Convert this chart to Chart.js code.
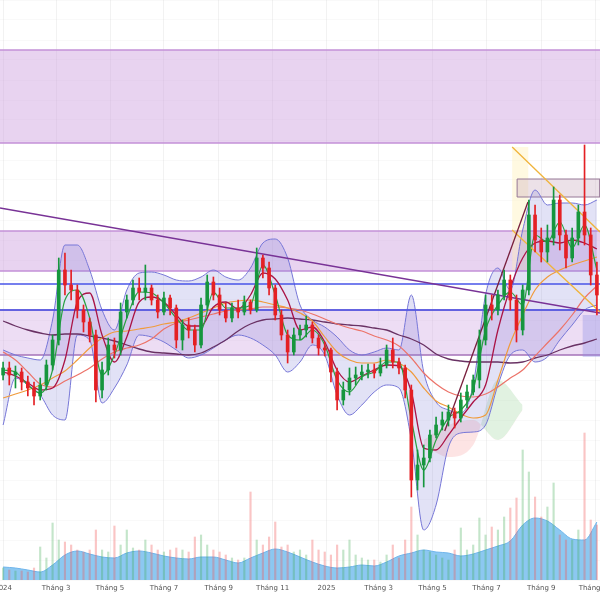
<!DOCTYPE html>
<html>
<head>
<meta charset="utf-8">
<script src="https://cdn.jsdelivr.net/npm/chart.js@4.4.1/dist/chart.umd.min.js"></script>
<style>
  html, body { margin: 0; padding: 0; background: #fff; }
  #wrap { width: 600px; height: 600px; }
</style>
</head>
<body>
<div id="wrap"><canvas id="chart"></canvas></div>
<script>
// ------------------ Data: one candle per week from 2024-01-01 (price, thousand VND) ------------------
const open = [
  22.5,23.2,22.5,22.8,21.8,21.2,20.4,21.5,23.5,26.0,
  33.0,31.5,31.0,29.0,27.8,26.5,21.0,23.0,25.5,25.0,
  28.8,30.0,31.2,30.8,31.2,30.0,28.8,30.2,29.2,26.0,
  27.5,27.0,25.5,29.5,31.8,30.5,29.0,28.2,29.2,28.8,
  29.8,29.0,34.2,33.2,31.2,28.5,26.5,24.8,26.5,27.0,
  27.5,26.2,25.2,25.0,22.8,20.0,21.0,22.2,22.5,22.8,
  23.0,22.7,23.5,25.0,23.8,23.2,21.0,12.0,13.5,14.2,
  16.5,17.5,18.0,18.8,18.2,20.0,20.8,22.0,26.0,29.5,
  29.0,30.5,32.0,30.0,27.0,31.0,38.5,36.0,34.8,36.2,
  40.0,36.5,34.2,36.2,38.8,36.5,32.5
];
const high = [
  23.8,23.8,23.4,23.2,22.4,21.8,22.2,24.0,26.5,34.2,
  34.7,33.0,31.5,29.5,28.2,27.0,23.8,26.2,26.2,29.7,
  30.5,32.0,32.2,33.5,31.5,30.5,30.8,30.5,29.5,28.0,
  28.2,27.5,30.2,32.5,32.3,31.2,29.7,29.7,30.0,30.4,
  30.0,35.2,34.5,33.8,31.5,29.0,27.0,27.2,27.5,28.4,
  27.8,26.5,25.8,25.2,23.2,21.8,23.2,23.3,23.5,23.6,
  23.6,24.2,25.5,26.2,24.2,23.5,21.5,15.0,15.5,17.0,
  18.3,18.8,19.5,19.2,20.7,21.5,22.5,27.0,30.5,30.5,
  31.0,33.0,32.5,30.5,31.5,40.0,39.5,37.2,37.5,41.3,
  40.5,37.0,37.2,39.5,45.5,37.2,33.8
];
const low = [
  22.0,21.5,21.2,21.0,20.4,19.5,20.0,21.0,23.0,25.5,
  30.5,30.0,28.2,26.8,25.8,19.8,20.2,22.5,24.2,24.5,
  28.2,29.5,30.0,30.0,29.5,28.2,28.5,28.5,25.2,25.0,
  26.2,24.8,25.2,29.0,30.0,28.5,27.8,27.8,28.2,28.5,
  28.6,28.8,32.2,30.5,28.0,26.0,23.7,24.5,26.0,26.3,
  25.7,24.5,24.4,21.8,19.0,19.5,20.5,21.5,22.0,22.2,
  22.2,22.4,23.2,23.2,22.6,20.2,10.3,11.0,11.3,13.8,
  16.2,17.0,17.4,17.2,17.8,19.2,20.5,21.2,25.5,28.0,
  28.5,30.0,29.0,25.8,26.5,30.5,34.8,33.8,33.8,35.5,
  35.0,33.2,33.8,35.5,35.5,31.5,28.5
];
const close = [
  23.2,22.5,22.8,21.8,21.2,20.4,21.5,23.5,26.0,33.0,
  31.5,31.0,29.0,27.8,26.5,21.0,23.0,25.5,25.0,28.8,
  30.0,31.2,30.8,31.2,30.0,28.8,30.2,29.2,26.0,27.5,
  27.0,25.5,29.5,31.8,30.5,29.0,28.2,29.2,28.8,29.8,
  29.0,34.2,33.2,31.2,28.5,26.5,24.8,26.5,27.0,27.5,
  26.2,25.2,25.0,22.8,20.0,21.0,22.2,22.5,22.8,23.0,
  22.7,23.5,25.0,23.8,23.2,21.0,12.0,13.5,14.2,16.5,
  17.5,18.0,18.8,18.2,20.0,20.8,22.0,26.0,29.5,29.0,
  30.5,32.0,30.0,27.0,31.0,38.5,36.0,34.8,36.2,40.0,
  36.5,34.2,36.2,38.8,36.5,32.5,30.5
];
// volume, million shares
const volume = [
  1.2,1.0,0.9,0.9,0.8,1.2,3.3,2.2,5.7,4.0,
  3.8,3.5,3.0,2.8,3.0,5.0,3.0,2.8,5.4,3.5,
  5.0,3.2,3.0,4.0,3.5,3.0,2.8,3.0,3.2,3.0,
  2.8,4.3,4.5,3.5,3.0,2.8,2.5,2.2,2.0,2.2,
  8.8,4.0,3.5,4.3,5.8,3.3,3.5,2.8,3.0,2.5,
  4.0,3.0,2.8,2.5,3.5,3.0,4.0,2.5,2.2,2.0,
  2.0,1.8,2.5,3.5,2.2,4.0,7.3,4.5,3.0,2.8,
  2.5,2.2,2.0,3.0,5.2,3.0,3.5,6.2,4.5,5.3,
  5.0,6.3,7.2,8.2,13.0,10.8,8.3,6.3,7.3,9.7,
  4.5,4.0,4.0,5.0,14.7,6.0,5.5
];

// indicators, read every second week
const ma10 = [23.0,22.8,21.5,20.7,23.0,30.0,31.0,28.2,22.5,24.5,28.2,30.8,30.7,29.7,28.2,27.0,27.0,30.8,29.2,29.2,29.5,33.5,30.5,26.5,26.0,27.0,25.5,22.0,20.8,22.3,22.8,23.8,23.8,18.0,13.0,16.0,18.2,19.0,21.0,27.0,29.5,30.8,29.5,36.5,35.8,37.8,35.2,37.5,33.0];
const ma20 = [22.8,22.4,21.7,21.0,21.2,24.0,29.8,30.7,26.5,23.8,26.3,29.8,30.3,29.8,28.5,27.4,27.4,29.3,29.8,29.1,30.5,32.7,32.1,30.0,27.0,27.3,25.8,23.0,21.8,22.4,23.0,23.5,23.4,20.8,15.2,15.0,16.5,18.2,19.8,21.5,27.0,31.2,34.2,35.7,35.9,35.7,36.0,35.7,35.1];
const ma50 = [20.2,20.6,21.0,21.5,22.2,22.9,24.0,25.2,26.2,26.8,26.9,27.1,27.3,27.6,27.8,28.2,28.7,29.2,29.7,29.9,30.0,29.8,29.5,29.2,28.7,27.9,26.3,24.8,24.0,23.7,23.7,24.0,23.7,22.8,21.2,19.9,19.3,18.6,18.2,18.5,22.0,25.7,28.5,31.0,32.3,33.0,33.5,33.9,34.3];
const ma100 = [24.8,24.0,22.8,21.6,21.3,21.9,22.5,23.2,24.1,24.8,25.2,25.5,26.1,27.1,27.7,28.0,28.3,28.6,28.9,29.0,29.1,29.3,29.3,29.2,29.0,28.6,28.1,27.6,27.2,26.9,26.4,26.0,25.4,24.2,22.7,21.6,20.8,20.4,20.3,20.6,21.3,22.2,23.0,24.4,25.7,27.0,28.5,30.2,31.4];
const ma200 = [27.9,27.4,27.0,26.7,26.5,26.6,26.6,26.4,26.2,25.9,25.5,25.1,24.8,24.7,24.6,24.5,24.7,25.3,26.0,26.9,27.6,28.0,28.1,28.2,28.1,28.0,27.8,27.6,27.5,27.4,27.2,27.0,26.5,26.1,25.5,24.6,24.1,23.9,23.8,23.8,23.8,23.7,23.8,24.2,24.5,25.0,25.4,25.7,26.1];
const bollUpper = [25.0,24.5,24.2,24.0,28.0,35.5,35.5,33.0,29.0,27.0,31.0,32.7,32.8,32.5,32.0,31.9,32.3,33.0,32.3,32.0,33.2,35.7,36.1,34.2,29.5,28.0,27.3,26.3,25.0,24.5,24.8,25.2,25.0,30.5,22.8,19.8,19.0,18.7,21.5,30.5,33.2,31.0,37.0,41.0,39.5,39.7,39.7,39.5,40.0];
const bollLower = [17.5,22.2,21.5,20.5,18.5,18.0,26.5,26.0,19.7,21.2,23.5,26.5,26.3,25.8,25.0,24.2,24.5,25.2,26.0,26.5,26.2,25.5,24.5,22.8,23.8,25.5,24.5,20.5,18.5,19.5,20.8,21.5,21.2,16.0,7.0,9.5,15.3,16.7,16.8,17.5,21.5,24.5,25.0,23.8,24.3,26.0,27.5,29.0,29.5];
const volMA = [1.3,1.2,1.0,0.8,1.5,2.5,2.9,2.6,2.3,2.2,2.7,2.9,2.7,2.4,2.2,2.1,2.3,2.3,2.0,1.7,2.2,2.7,3.1,2.8,2.3,1.8,1.4,1.2,1.3,1.5,1.4,1.8,2.4,2.7,3.0,2.8,2.7,2.4,2.6,3.0,3.4,3.9,5.5,6.2,5.9,5.0,4.1,4.0,5.8];

// visible part of the Ichimoku cloud, weeks 68..84 every 4 weeks
const cloudWeeks = [68, 72, 76, 80, 84];
const spanA = [15.5, 14.3, 15.5, 22.0, 19.5];
const spanB = [16.0, 17.5, 18.0, 16.0, 19.0];

// drawn zones and levels (price)
const zones = [[45.7, 55.0], [32.9, 36.9], [24.5, 29.0]];
const blueLevels = [31.6, 29.0];
// trend lines as [week, price] anchors
const trendLong = [[-0.5, 39.2], [96.5, 28.7]];
const trendUp = [[71.4, 16.9], [84.85, 39.8]];
const channelTop = [[82.3, 45.3], [96.5, 36.8]];
const channelBottom = [[82.3, 37.0], [96.5, 28.8]];
// boxes: [fromWeek, toWeek, lowPrice, highPrice]
const boxTop = [83.1, 96.5, 40.3, 42.1];
const boxFib = [82.3, 84.9, 33.0, 45.3];
const boxRight = [93.7, 96.5, 24.3, 28.5];

const tickDates = ["2024-01-01","2024-03-01","2024-05-01","2024-07-01","2024-09-01","2024-11-01",
                   "2025-01-01","2025-03-01","2025-05-01","2025-07-01","2025-09-01","2025-11-01"];
const tickLabels = ["2024","Tháng 3","Tháng 5","Tháng 7","Tháng 9","Tháng 11",
                    "2025","Tháng 3","Tháng 5","Tháng 7","Tháng 9","Tháng 11"];

// ------------------ Helpers ------------------
const start = Date.parse("2024-01-01");
const toWeek = d => (Date.parse(d) - start) / (7 * 864e5);
const lastX = close.length - 0.5;

const GREEN = 'rgb(22,150,62)';
const RED = 'rgb(228,32,36)';
const up = close.map((c, i) => c >= open[i]);

function every2(values) {
  return values.map((v, k) => ({ x: k * 2, y: v }));
}
function line(values, color, width, order, extra) {
  return Object.assign({
    type: 'line', data: every2(values), borderColor: color, borderWidth: width,
    pointRadius: 0, cubicInterpolationMode: 'monotone', fill: false, order: order
  }, extra);
}
function segment(pts, color, width, order) {
  return {
    type: 'line', data: pts.map(p => ({ x: p[0], y: p[1] })), borderColor: color,
    borderWidth: width, pointRadius: 0, fill: false, order: order
  };
}
function box(b, fillColor, borderColor, width, order) {
  return {
    type: 'line',
    data: [{ x: b[0], y: b[3] }, { x: b[1], y: b[3] }, { x: b[1], y: b[2] }, { x: b[0], y: b[2] }, { x: b[0], y: b[3] }],
    borderColor: borderColor, borderWidth: width, backgroundColor: fillColor,
    pointRadius: 0, fill: 'shape', order: order
  };
}

// ------------------ Datasets ------------------
const datasets = [];

zones.forEach((z, k) => {
  datasets.push(box([-1, lastX + 1, z[0], z[1]],
    k === 2 ? 'rgba(200,150,220,0.32)' : 'rgba(200,150,220,0.42)',
    k === 2 ? 'rgb(165,115,185)' : 'rgb(195,145,215)', 1.5, 100 + k));
});
blueLevels.forEach(v => datasets.push(segment([[-1, v], [lastX + 1, v]], 'rgb(72,84,232)', 1.6, 60)));

datasets.push(box(boxFib, 'rgba(255,238,170,0.35)', 'rgba(0,0,0,0)', 0, 98));
datasets.push(box(boxTop, 'rgba(200,170,190,0.35)', 'rgb(150,120,150)', 1, 97));
datasets.push(box(boxRight, 'rgba(140,140,230,0.35)', 'rgba(0,0,0,0)', 0, 96));

// Ichimoku cloud patch
datasets.push({
  type: 'line', data: cloudWeeks.map((w, k) => ({ x: w, y: spanA[k] })), borderWidth: 0, pointRadius: 0,
  cubicInterpolationMode: 'monotone', order: 95,
  fill: { target: '+1', above: 'rgba(120,195,120,0.22)', below: 'rgba(245,130,130,0.22)' }
});
datasets.push({
  type: 'line', data: cloudWeeks.map((w, k) => ({ x: w, y: spanB[k] })), borderWidth: 0, pointRadius: 0,
  cubicInterpolationMode: 'monotone', order: 95
});

// volume
datasets.push({
  type: 'line', yAxisID: 'yv', data: every2(volMA), borderColor: 'rgb(110,180,235)', borderWidth: 1,
  backgroundColor: 'rgba(120,190,238,0.85)', fill: 'origin', pointRadius: 0,
  cubicInterpolationMode: 'monotone', order: 91
});
datasets.push({
  type: 'bar', yAxisID: 'yv', data: volume.map((v, i) => ({ x: i, y: v })),
  backgroundColor: up.map(u => u ? 'rgba(60,170,80,0.3)' : 'rgba(240,90,90,0.35)'),
  barThickness: 1.5, grouped: false, order: 90
});

// Bollinger
datasets.push(line(bollUpper, 'rgb(118,118,215)', 1, 80, { fill: '+1', backgroundColor: 'rgba(125,125,215,0.22)' }));
datasets.push(line(bollLower, 'rgb(118,118,215)', 1, 80));

// moving averages
datasets.push(line(ma200, 'rgb(105,50,100)', 1.3, 59));
datasets.push(line(ma100, 'rgb(236,115,105)', 1.2, 58));
datasets.push(line(ma50, 'rgb(240,155,60)', 1.2, 57));
datasets.push(line(ma20, 'rgb(170,20,70)', 1.3, 56));
datasets.push(line(ma10, 'rgb(40,160,65)', 1.2, 55));

// trend lines
datasets.push(segment(trendLong, 'rgb(120,50,150)', 1.5, 50));
datasets.push(segment(trendUp, 'rgb(120,30,60)', 1.3, 50));
datasets.push(segment(channelTop, 'rgb(240,180,60)', 1.3, 50));
datasets.push(segment(channelBottom, 'rgb(240,180,60)', 1.3, 50));

// candles
datasets.push({
  type: 'bar', data: close.map((c, i) => ({ x: i, y: [low[i], high[i]] })),
  backgroundColor: up.map(u => u ? GREEN : RED), barThickness: 1, grouped: false, order: 2
});
datasets.push({
  type: 'bar', data: close.map((c, i) => ({ x: i, y: [open[i], c] })),
  backgroundColor: up.map(u => u ? GREEN : RED), barThickness: 3, minBarLength: 1, grouped: false, order: 1
});

// ------------------ Chart ------------------
new Chart(document.getElementById('chart').getContext('2d'), {
  type: 'line',
  data: { datasets: datasets },
  options: {
    responsive: true,
    maintainAspectRatio: false,
    animation: false,
    layout: { padding: 0, autoPadding: false },
    plugins: { legend: { display: false }, tooltip: { enabled: false } },
    scales: {
      x: {
        type: 'linear', min: -0.5, max: lastX, offset: false,
        afterBuildTicks: s => { s.ticks = tickDates.map(d => ({ value: toWeek(d) })); },
        afterFit: s => { s.height = 20; s.paddingLeft = 0; s.paddingRight = 0; },
        ticks: {
          autoSkip: false, maxRotation: 0, padding: 4, color: '#555',
          font: { size: 7, family: 'DejaVu Sans' },
          callback: (v, i) => tickLabels[i]
        },
        grid: { color: 'rgba(0,0,0,0.05)', drawTicks: false, offset: false },
        border: { display: false }
      },
      y: {
        min: 2, max: 60,
        afterFit: s => { s.width = 0; },
        ticks: { display: false, stepSize: 2 },
        grid: { color: 'rgba(0,0,0,0.025)', drawTicks: false },
        border: { display: false }
      },
      yv: { min: 0, max: 58, display: false }
    }
  }
});
</script>
</body>
</html>
